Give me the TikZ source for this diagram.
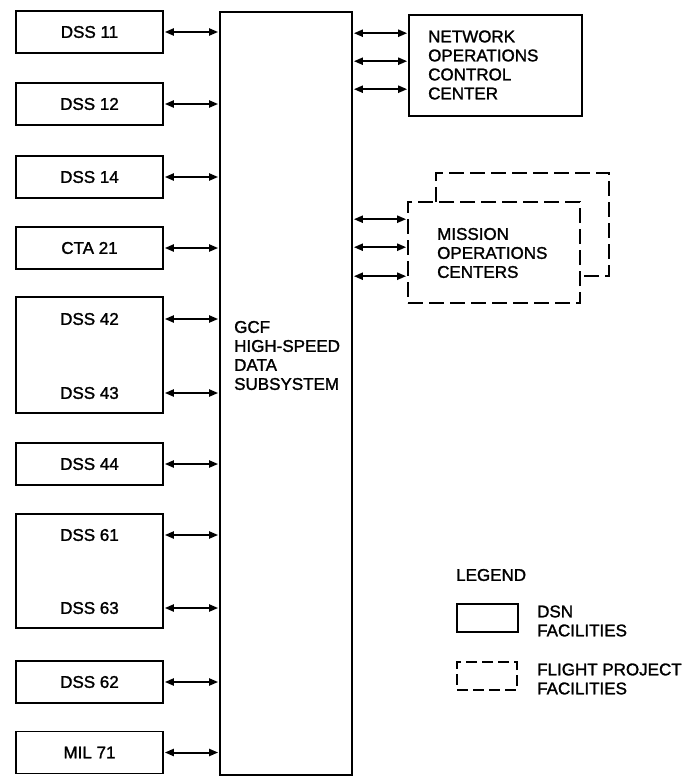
\documentclass[tikz,border=0pt]{standalone}
\usepackage{fontspec}
\setmainfont[FakeBold=1.5]{Liberation Sans}
\usetikzlibrary{arrows.meta}
\tikzset{
  x=1pt, y=-1pt,
  every node/.style={font=\fontsize{17}{19}\selectfont, inner sep=0pt},
  box/.style={draw, line width=1.6pt, minimum width=147pt, minimum height=42pt},
  bigbox/.style={draw, line width=1.6pt, minimum width=147pt},
  fpbox/.style={draw, line width=1.6pt, dash pattern=on 15pt off 6pt},
  txt/.style={align=left},
  biarrow/.style={line width=2pt, {Triangle[length=9pt,width=7pt]}-{Triangle[length=9pt,width=7pt]}, shorten <=1pt, shorten >=1pt}
}
\begin{document}
\begin{tikzpicture}
\useasboundingbox (0,0) rectangle (682,776);
% central subsystem
\node[draw, line width=1.7pt, minimum width=132pt, minimum height=763pt] (gcf) at (286,393.5) {};
\node[txt, anchor=west] (gcft) at (234,355.5) {GCF\\HIGH-SPEED\\DATA\\SUBSYSTEM};
% left stations
\node[box] (dss11) at (89.5,32) {DSS 11};
\node[box] (dss12) at (89.5,104) {DSS 12};
\node[box] (dss14) at (89.5,177) {DSS 14};
\node[box] (cta21) at (89.5,248) {CTA 21};
\node[bigbox, minimum height=116pt] (dss4243) at (89.5,355) {};
\node (t42) at (89.5,319) {DSS 42};
\node (t43) at (89.5,393) {DSS 43};
\node[box] (dss44) at (89.5,464) {DSS 44};
\node[bigbox, minimum height=114pt] (dss6163) at (89.5,571) {};
\node (t61) at (89.5,535) {DSS 61};
\node (t63) at (89.5,608) {DSS 63};
\node[box] (dss62) at (89.5,682) {DSS 62};
\node[box] (mil71) at (89.5,752.5) {MIL 71};
% left connectors
\foreach \n in {dss11,dss12,dss14,cta21,dss44,dss62,mil71}
  \draw[biarrow] (\n.east) -- (\n.east -| gcf.west);
\foreach \n in {t42,t43}
  \draw[biarrow] (\n -| dss4243.east) -- (\n -| gcf.west);
\foreach \n in {t61,t63}
  \draw[biarrow] (\n -| dss6163.east) -- (\n -| gcf.west);
% network operations control center
\node[draw, line width=1.6pt, minimum width=173pt, minimum height=101pt] (nocc) at (495.5,65.5) {};
\node[txt, anchor=west] (nocct) at (428,65) {NETWORK\\OPERATIONS\\CONTROL\\CENTER};
\foreach \d in {19,47,75}
  \draw[biarrow] ([yshift=-\d pt]nocc.north west -| gcf.east) -- ([yshift=-\d pt]nocc.north west);
% mission operations centers
\draw[fpbox] (436,202) -- (436,173) -- (609,173) -- (609,276) -- (580,276);
\node[fpbox, minimum width=172pt, minimum height=101pt] (moc) at (494,252.5) {};
\node[txt, anchor=west] (moct) at (437,253) {MISSION\\OPERATIONS\\CENTERS};
\foreach \d in {18,46,75}
  \draw[biarrow] ([yshift=-\d pt]moc.north west -| gcf.east) -- ([yshift=-\d pt]moc.north west);
% legend
\node[anchor=west] (leg) at (456,575) {LEGEND};
\node[draw, line width=1.6pt, minimum width=61pt, minimum height=28pt] (lg1) at (487.5,618) {};
\node[txt, anchor=west] (lg1t) at (537,621) {DSN\\FACILITIES};
\node[draw, line width=1.6pt, dash pattern=on 11pt off 5pt, minimum width=60pt, minimum height=28pt] (lg2) at (487,676) {};
\node[txt, anchor=west] (lg2t) at (537,679) {FLIGHT PROJECT\\FACILITIES};
\end{tikzpicture}
\end{document}
